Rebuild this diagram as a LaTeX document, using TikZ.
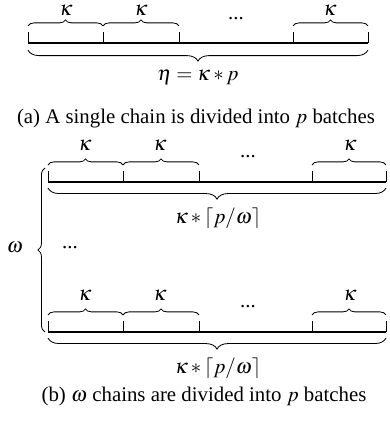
\documentclass[tikz,border=0pt]{standalone}
\usepackage{mathptmx}
\usepackage[no-math]{fontspec}
\setmainfont{Liberation Serif}
\usetikzlibrary{decorations.pathreplacing}

\tikzset{
  chain/.style={line width=0.9pt},
  cut/.style={line width=0.4pt},
  kbrace/.style={decorate, decoration={brace, amplitude=2.9pt}, line width=0.4pt},
  sbrace/.style={decorate, decoration={brace, amplitude=5.3pt}, line width=0.4pt},
  wbrace/.style={decorate, decoration={brace, amplitude=3.4pt}, line width=0.4pt},
  lbl/.style={inner sep=0pt, font=\normalsize}
}

\begin{document}
\begin{tikzpicture}[x=0.48pt, y=-0.48pt]
\useasboundingbox (0,0) rectangle (390,429);

% ---------- (a) single chain ----------
\coordinate (a0) at (28,43);
\coordinate (a1) at (103,43);
\coordinate (a2) at (179,43);
\coordinate (a3) at (293,43);
\coordinate (a4) at (368,43);

\draw[chain] (a0) -- (a4);
\foreach \i in {0,...,4} \draw[cut] (a\i) -- ++(0,-11);

% batch braces
\draw[kbrace] ([yshift=8.2pt]a0) -- ([yshift=8.2pt]a1);
\draw[kbrace] ([yshift=8.2pt]a1) -- ([yshift=8.2pt]a2);
\draw[kbrace] ([yshift=8.2pt]a3) -- ([yshift=8.2pt]a4);
\node[lbl] (ka1) at (66,10.5) {$\kappa$};
\node[lbl] (ka2) at (141,10.5) {$\kappa$};
\node[lbl] (ka3) at (330,10.5) {$\kappa$};
\node[lbl] (da) at (236,19) {...};

% whole chain
\draw[sbrace] ([yshift=-3.4pt]a4) -- ([yshift=-3.4pt]a0);
\node[lbl] (eta) at (198,77) {$\eta = \kappa * p$};

\node[lbl] (capa) at (196,119) {(a) A single chain is divided into $p$ batches};

% ---------- (b) omega chains ----------
\coordinate (b0) at (48,182);
\coordinate (b1) at (123,182);
\coordinate (b2) at (199,182);
\coordinate (b3) at (312,182);
\coordinate (b4) at (386,182);

\draw[chain] (b0) -- (b4);
\foreach \i in {0,...,4} \draw[cut] (b\i) -- ++(0,-11);

\draw[kbrace] ([yshift=8.2pt]b0) -- ([yshift=8.2pt]b1);
\draw[kbrace] ([yshift=8.2pt]b1) -- ([yshift=8.2pt]b2);
\draw[kbrace] ([yshift=8.2pt]b3) -- ([yshift=8.2pt]b4);
\node[lbl] (kb1) at (85,145) {$\kappa$};
\node[lbl] (kb2) at (160,145) {$\kappa$};
\node[lbl] (kb3) at (350,145) {$\kappa$};
\node[lbl] (db) at (248,157) {...};

\draw[sbrace] ([yshift=-2.9pt]b4) -- ([yshift=-2.9pt]b0);
\node[lbl] (lenb) at (218,218) {$\kappa * \lceil p/\omega \rceil$};

% last chain
\coordinate (c0) at (48,332);
\coordinate (c1) at (123,332);
\coordinate (c2) at (199,332);
\coordinate (c3) at (312,332);
\coordinate (c4) at (386,332);

\draw[chain] (c0) -- (c4);
\foreach \i in {0,...,4} \draw[cut] (c\i) -- ++(0,-11);

\draw[kbrace] ([yshift=8.2pt]c0) -- ([yshift=8.2pt]c1);
\draw[kbrace] ([yshift=8.2pt]c1) -- ([yshift=8.2pt]c2);
\draw[kbrace] ([yshift=8.2pt]c3) -- ([yshift=8.2pt]c4);
\node[lbl] (kc1) at (85,295) {$\kappa$};
\node[lbl] (kc2) at (160,295) {$\kappa$};
\node[lbl] (kc3) at (350,295) {$\kappa$};
\node[lbl] (dc) at (248,307) {...};

\draw[sbrace] ([yshift=-2.9pt]c4) -- ([yshift=-2.9pt]c0);
\node[lbl] (lenc) at (218,368) {$\kappa * \lceil p/\omega \rceil$};

% chains in between
\node[lbl] (dmid) at (70,248) {...};

% omega brace
\coordinate (w0) at (45,332);
\coordinate (w1) at (45,168);
\draw[wbrace] (w0) -- (w1);
\node[lbl] (om) at (15,248) {$\omega$};

\node[lbl] (capb) at (204,396) {(b) $\omega$ chains are divided into $p$ batches};

\end{tikzpicture}
\end{document}
